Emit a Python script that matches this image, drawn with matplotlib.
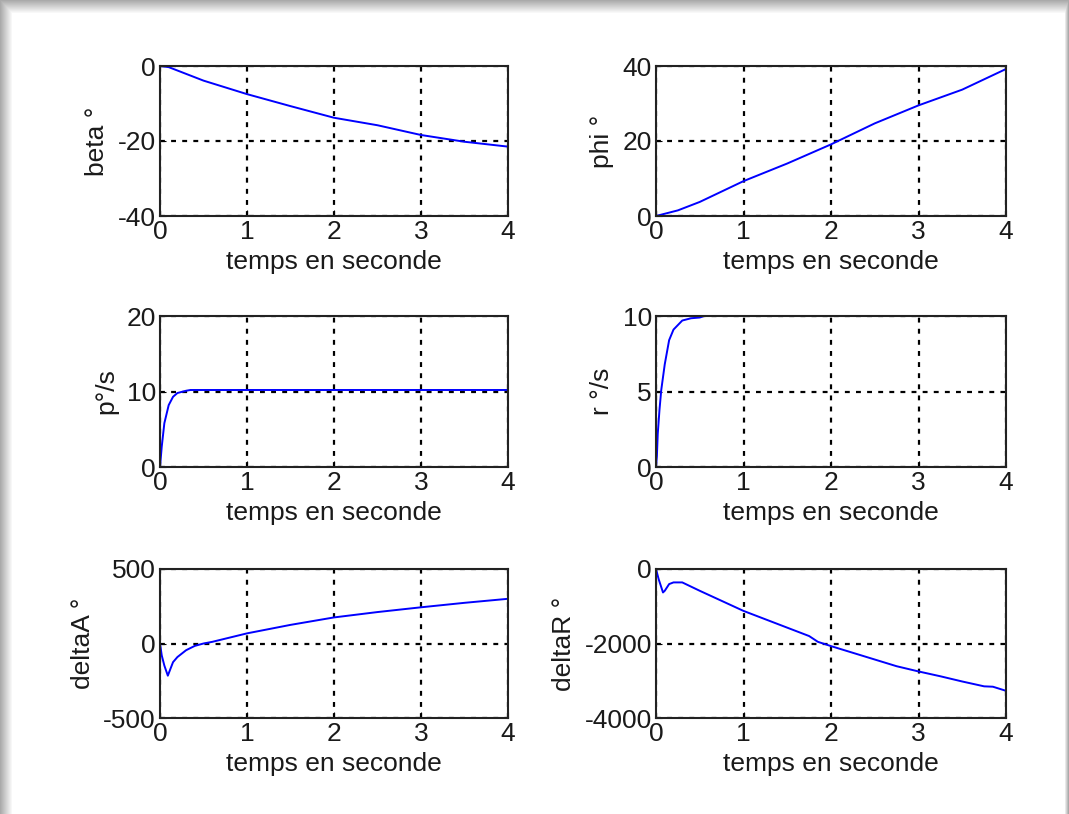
import matplotlib
matplotlib.use("Agg")
import matplotlib.pyplot as plt
import numpy as np

plt.rcParams['font.family'] = ['Liberation Sans', 'DejaVu Sans']
plt.rcParams['axes.unicode_minus'] = False

# simulated lateral response, sampled by hand from the run
t_beta = [0, 0.1, 0.5, 1.0, 1.5, 2.0, 2.5, 3.0, 3.5, 4.0]
beta = [0, -0.3, -3.9, -7.5, -10.7, -13.8, -15.8, -18.4, -20.2, -21.5]

t_phi = [0, 0.25, 0.5, 1.0, 1.5, 2.0, 2.5, 3.0, 3.5, 4.0]
phi = [0, 1.5, 3.75, 9.3, 14.0, 19.1, 24.7, 29.5, 33.7, 39.2]

t_p = [0, 0.02, 0.05, 0.1, 0.15, 0.2, 0.3, 0.35, 1.0, 2.0, 3.0, 4.0]
p = [0, 2.7, 5.8, 8.2, 9.3, 9.8, 10.1, 10.2, 10.2, 10.2, 10.2, 10.2]

t_r = [0, 0.01, 0.02, 0.04, 0.06, 0.1, 0.15, 0.2, 0.3, 0.4, 0.5, 0.55, 4.0]
r = [0, 0.7, 2.2, 3.8, 5.1, 6.8, 8.4, 9.1, 9.7, 9.85, 9.9, 10.0, 10.0]

t_da = [0, 0.02, 0.05, 0.09, 0.12, 0.15, 0.2, 0.3, 0.4, 0.5, 0.6, 1.0, 1.5,
        2.0, 2.5, 3.0, 3.5, 4.0]
deltaA = [0, -80, -148, -216, -170, -125, -91, -45, -16, 0, 11, 68, 125,
          175, 211, 243, 273, 300]

t_dr = [0, 0.03, 0.08, 0.1, 0.15, 0.2, 0.3, 0.5, 0.75, 1.0, 1.25, 1.5, 1.75,
        1.85, 2.0, 2.25, 2.5, 2.75, 3.0, 3.25, 3.5, 3.75, 3.85, 4.0]
deltaR = [0, -270, -630, -585, -405, -360, -360, -585, -855, -1125, -1350,
          -1575, -1800, -1955, -2070, -2250, -2430, -2610, -2750, -2880,
          -3020, -3150, -3160, -3270]

panels = [
    (t_beta, beta, 'beta °', (-40, 0), [-40, -20, 0]),
    (t_phi, phi, 'phi °', (0, 40), [0, 20, 40]),
    (t_p, p, 'p°/s', (0, 20), [0, 10, 20]),
    (t_r, r, 'r °/s', (0, 10), [0, 5, 10]),
    (t_da, deltaA, 'deltaA °', (-500, 500), [-500, 0, 500]),
    (t_dr, deltaR, 'deltaR °', (-4000, 0), [-4000, -2000, 0]),
]

W, H = 1069, 814
fig = plt.figure(figsize=(W / 100, H / 100), dpi=100)

# drop shadow around the page
bg = fig.add_axes([0, 0, 1, 1], zorder=-10)
yy, xx = np.mgrid[0:H, 0:W]
shade = np.maximum(np.clip(1 - yy / 13.0, 0, 1), np.clip(1 - xx / 12.0, 0, 1))
shade = np.maximum(shade, np.clip(1 - (W - 1 - xx) / 4.0, 0, 1))
img = 1 - 0.33 * shade
bg.imshow(np.dstack([img, img, img]), aspect='auto', extent=[0, W, H, 0])
bg.set_axis_off()

col_x = [160, 656]
col_w = [348, 350]
row_y = [(66, 216), (316, 467), (569, 718)]
ink = '#1a1a1a'

for i, (t, y, lab, ylim, yt) in enumerate(panels):
    row, col = divmod(i, 2)
    top, bot = row_y[row]
    ax = fig.add_axes([col_x[col] / W, 1 - bot / H, col_w[col] / W, (bot - top) / H])
    ax.plot(t, y, color='blue', lw=1.4)
    ax.set_xlim(0, 4)
    ax.set_ylim(*ylim)
    ax.set_xticks([0, 1, 2, 3, 4])
    ax.set_yticks(yt)
    ax.grid(True, color='black', linestyle=(0, (2.2, 2.8)), linewidth=1.6)
    ax.tick_params(direction='in', length=4, labelsize=19, pad=3,
                   labelcolor=ink)
    for s in ax.spines.values():
        s.set_linewidth(1.5)
        s.set_color('#222222')
    ax.set_xlabel('temps en seconde', fontsize=19, labelpad=4, color=ink)
    ax.set_ylabel(lab, fontsize=19, labelpad=6, color=ink)

fig.savefig('out.png', dpi=100)
